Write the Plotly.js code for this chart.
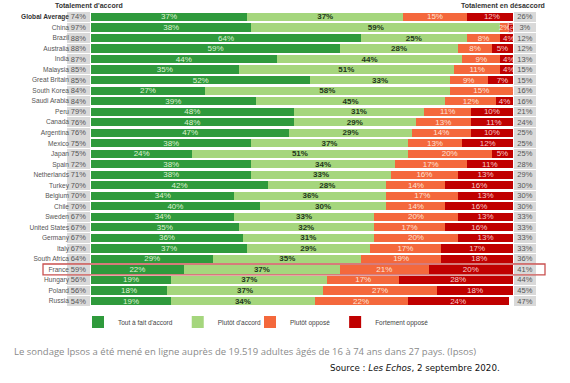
<!DOCTYPE html>
<html>
<head>
<meta charset="utf-8">
<script src="https://cdn.plot.ly/plotly-3.0.1.min.js"></script>
<style>html,body{margin:0;padding:0;background:#fff;}#chart{width:570px;height:383px;}</style>
</head>
<body>
<div id="chart"></div>
<script>
const countries = ["Global Average","China","Brazil","Australia","India","Malaysia","Great Britain","South Korea","Saudi Arabia","Peru","Canada","Argentina","Mexico","Japan","Spain","Netherlands","Turkey","Belgium","Chile","Sweden","United States","Germany","Italy","South Africa","France","Hungary","Poland","Russia"];
const totalAgree    = [74,97,88,88,87,85,85,84,84,79,76,76,75,75,72,71,70,70,70,67,67,67,67,64,59,56,56,54];
const strongAgree   = [37,38,64,59,44,35,52,27,39,48,48,47,38,24,38,38,42,34,40,34,35,36,37,29,22,19,18,19];
const somewhatAgree = [37,59,25,28,44,51,33,58,45,31,29,29,37,51,34,33,28,36,30,33,32,31,29,35,37,37,37,34];
const somewhatOpp   = [15,2,8,8,9,11,9,15,12,11,13,14,13,20,17,16,14,17,14,20,17,20,17,19,21,17,27,22];
const strongOpp     = [12,1,4,5,4,4,7,1,4,10,11,10,12,5,11,13,16,13,16,13,16,13,17,18,20,28,18,24];
const totalDisagree = [26,3,12,12,13,15,15,16,16,21,24,25,25,25,28,29,30,30,30,33,33,33,33,36,41,44,45,47];
const seriesNames = ["Tout à fait d'accord","Plutôt d'accord","Plutôt opposé","Fortement opposé"];

const font = "Liberation Sans, Arial, sans-serif";
const barW = 0.78;

function seg(vals, name, color, txtColor, bold, legend) {
  return {
    type: 'bar', orientation: 'h', x: vals, y: countries, name: name,
    marker: {color: color}, width: barW,
    texttemplate: bold ? '<b>%{x}%</b>' : '%{x}%',
    textposition: 'inside', insidetextanchor: 'middle',
    insidetextfont: {family: font, size: 8, color: txtColor},
    xaxis: 'x', yaxis: 'y', legend: legend, hoverinfo: 'skip'
  };
}
function box(vals, axis) {
  return {
    type: 'bar', orientation: 'h', x: vals.map(() => 1), y: countries,
    text: vals.map(v => v + '%'), texttemplate: '%{text}',
    textposition: 'inside', insidetextanchor: 'middle',
    insidetextfont: {family: font, size: 7.5, color: '#555'},
    marker: {color: '#d9d9d9'}, width: 0.92, showlegend: false,
    xaxis: axis, yaxis: 'y', hoverinfo: 'skip'
  };
}

const data = [
  seg(strongAgree, seriesNames[0], '#2f9a3c', '#dff2d2', false, 'legend'),
  seg(somewhatAgree, seriesNames[1], '#a5d67d', '#23381a', true, 'legend'),
  seg(somewhatOpp, seriesNames[2], '#f4683c', '#fde3d6', false, 'legend2'),
  seg(strongOpp, seriesNames[3], '#c00000', '#f6c9c9', false, 'legend2'),
  box(totalAgree, 'x2'),
  box(totalDisagree, 'x3')
];

const ydom = [1 - 306.3/383, 1 - 11.7/383];
const legFont = {family: font, size: 6.5, color: '#444'};
const layout = {
  width: 570, height: 383,
  margin: {l: 0, r: 0, t: 0, b: 0, autoexpand: false},
  paper_bgcolor: '#fff', plot_bgcolor: 'rgba(0,0,0,0)',
  barmode: 'stack', hovermode: false,
  uniformtext: {minsize: 7.5, mode: 'show'},
  xaxis: {domain: [91/570, 513/570], range: [0, 100], showgrid: false, zeroline: false, showticklabels: false, fixedrange: true},
  xaxis2: {domain: [67/570, 90/570], range: [0, 1], showgrid: false, zeroline: false, showticklabels: false, anchor: 'y'},
  xaxis3: {domain: [514/570, 536/570], range: [0, 1], showgrid: false, zeroline: false, showticklabels: false, anchor: 'y'},
  yaxis: {
    domain: ydom, anchor: 'x2', type: 'category',
    range: [countries.length - 0.5, -0.5],
    tickmode: 'array', tickvals: countries,
    ticktext: countries.map((c, i) => i === 0 ? '<b style="color:#333">' + c + '</b>' : c),
    tickfont: {family: font, size: 6.6, color: '#555'},
    ticklabelstandoff: -3,
    ticks: '', showgrid: false, zeroline: false, showline: false
  },
  showlegend: true,
  legend: {orientation: 'h', traceorder: 'normal', x: 78/570, xanchor: 'left', y: 1 - 322/383, yanchor: 'middle',
    font: legFont, itemwidth: 30, bgcolor: 'rgba(0,0,0,0)'},
  legend2: {orientation: 'h', traceorder: 'normal', x: 250/570, xanchor: 'left', y: 1 - 322/383, yanchor: 'middle',
    font: legFont, itemwidth: 30, bgcolor: 'rgba(0,0,0,0)'},
  shapes: [{
    type: 'rect', xref: 'paper', yref: 'y', x0: 43/570, x1: 545/570, y0: 23.48, y1: 24.52,
    line: {color: '#c9504f', width: 1.3}, fillcolor: 'rgba(0,0,0,0)', layer: 'above'
  }],
  annotations: [
    {xref: 'paper', yref: 'paper', x: 89/570, y: 1 - 6/383, text: "<b>Totalement d'accord</b>", showarrow: false,
     font: {family: font, size: 7, color: '#333'}, xanchor: 'center', yanchor: 'middle'},
    {xref: 'paper', yref: 'paper', x: 503/570, y: 1 - 6/383, text: "<b>Totalement en désaccord</b>", showarrow: false,
     font: {family: font, size: 7, color: '#333'}, xanchor: 'center', yanchor: 'middle'},
    {xref: 'paper', yref: 'paper', x: 12/570, y: 1 - 351/383, text: "Le sondage Ipsos a été mené en ligne auprès de 19.519 adultes âgés de 16 à 74 ans dans 27 pays. (Ipsos)",
     showarrow: false, font: {family: 'Open Sans, sans-serif', size: 9.5, color: '#8a8a8a'}, xanchor: 'left', yanchor: 'middle'},
    {xref: 'paper', yref: 'paper', x: 502/570, y: 1 - 368/383, text: "Source : <i>Les Echos</i>, 2 septembre 2020.",
     showarrow: false, font: {family: 'DejaVu Sans, sans-serif', size: 8.7, color: '#111'}, xanchor: 'right', yanchor: 'middle'}
  ]
};

Plotly.newPlot('chart', data, layout, {displayModeBar: false, staticPlot: true});
</script>
</body>
</html>
